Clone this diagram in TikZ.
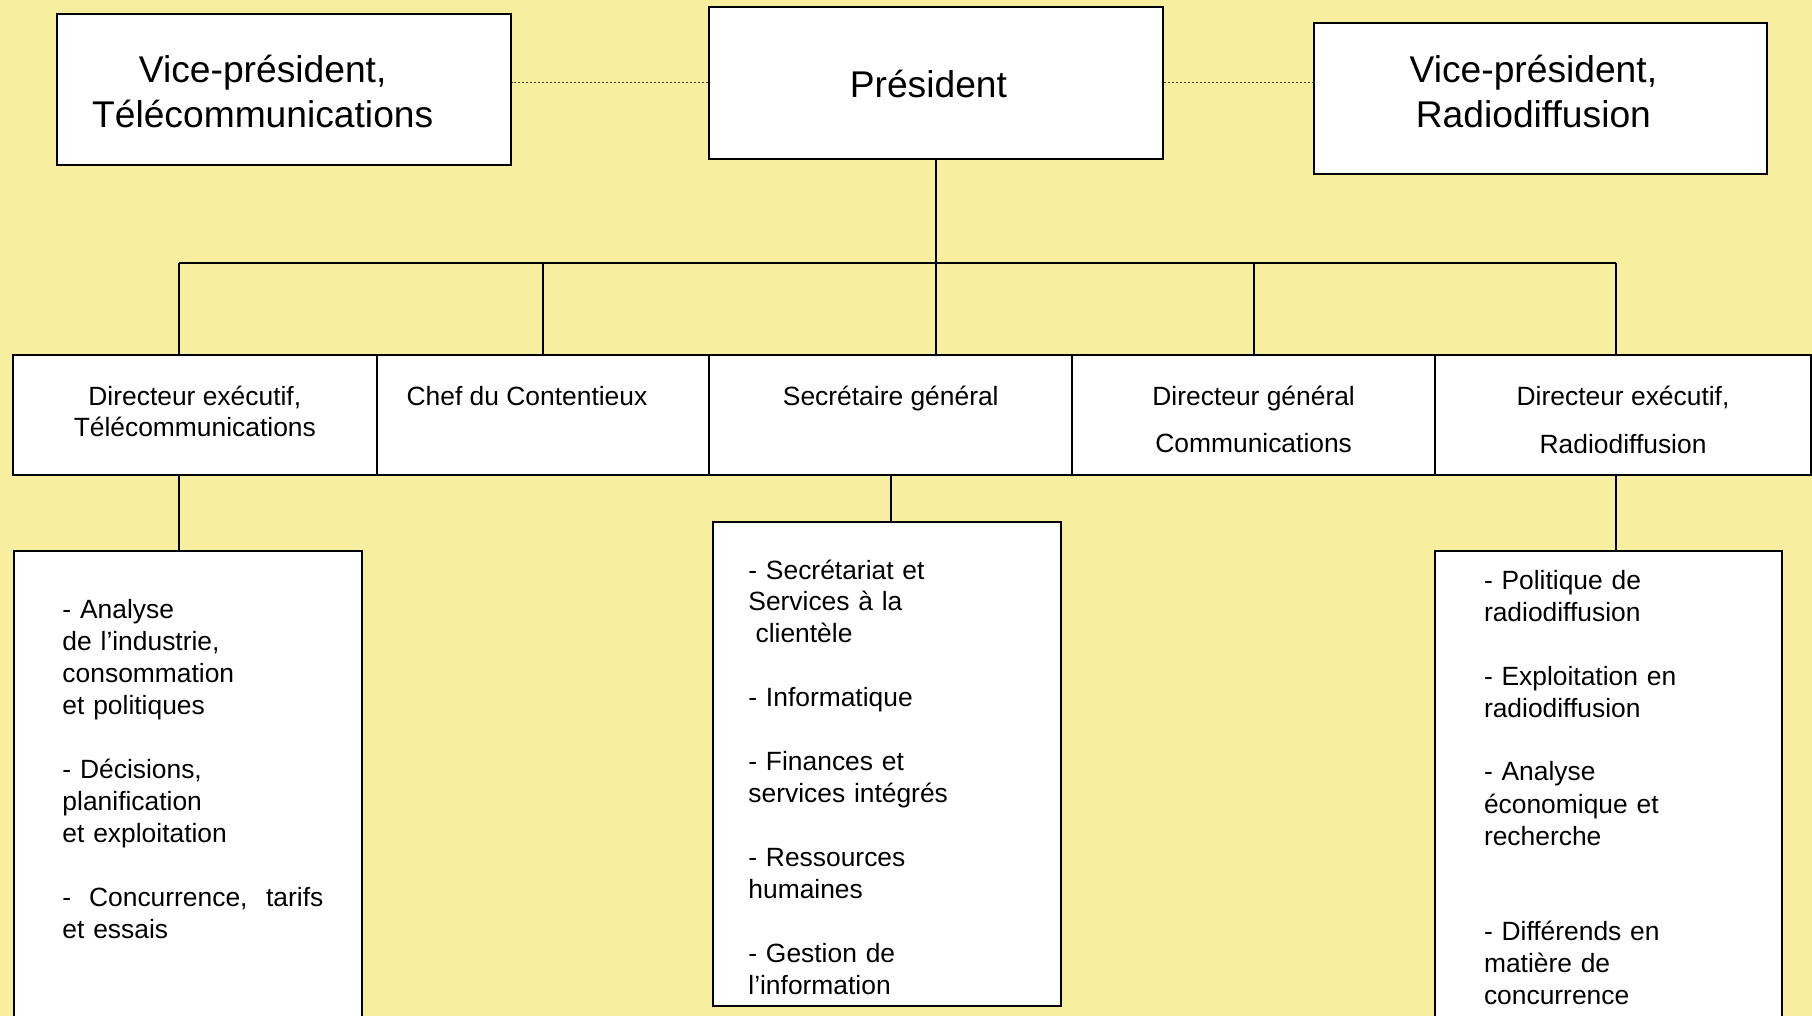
\documentclass[tikz,border=0pt]{standalone}
\usepackage{fontspec}
\setmainfont{Liberation Sans}
\definecolor{bgyellow}{RGB}{248,238,160}
\newcommand{\bigfont}{\fontsize{18.6}{22.5}\selectfont}
\newcommand{\dirfont}{\fontsize{13.2}{15.5}\selectfont}
\newcommand{\taskfont}{\fontsize{13.2}{16}\selectfont}
\newcommand{\boxlines}[1]{\begin{tabular}[t]{@{}c@{}}#1\end{tabular}}
\tikzset{
  box/.style={draw, fill=white, line width=1pt, inner sep=0pt, anchor=north west},
  bigbox/.style={box, font=\bigfont},
  dirbox/.style={box, font=\dirfont, text height=25.15pt, text depth=35pt},
  taskbox/.style={box, font=\taskfont, align=left, execute at begin node={\leftskip=#1}},
  link/.style={line width=1pt},
  dotlink/.style={line width=0.6pt, black!75, dash pattern=on 0.8pt off 1.2pt}
}
\begin{document}
\begin{tikzpicture}[x=0.5pt,y=-0.5pt]
\useasboundingbox (0,0) rectangle (1812,1016);
\clip (0,0) rectangle (1812,1016);
\fill[bgyellow] (0,0) rectangle (1812,1016);

\node[bigbox, minimum width=227pt, text height=34.5pt, text depth=41.3pt] (vpt) at (55.5,12.7)
  {\boxlines{Vice-président,\\Télécommunications}\kern20.8pt};
\node[bigbox, minimum width=227pt, text height=45.35pt, text depth=30.5pt] (pres) at (708,6)
  {Président\kern7.6pt};
\node[bigbox, minimum width=226.6pt, text height=30pt, text depth=45.65pt] (vpr) at (1312.8,21.7)
  {\boxlines{Vice-président,\\Radiodiffusion}\kern7pt};

%directors
\node[dirbox, minimum width=181.8pt] (dte) at (12,354) {\boxlines{Directeur exécutif,\\Télécommunications}};
\node[dirbox, minimum width=166.4pt] (chef) at (375.6,354) {Chef du Contentieux\kern16pt};
\node[dirbox, minimum width=181.4pt] (sg) at (708.4,354) {Secrétaire général};
\node[dirbox, minimum width=181.45pt] (dgc) at (1071.2,354) {\boxlines{Directeur général\\[8.3pt]Communications}};
\node[dirbox, minimum width=187.95pt] (der) at (1434.1,354) {\boxlines{Directeur exécutif,\\[8.5pt]Radiodiffusion}};

%services
\node[taskbox=24.4pt, text width=173.9pt, text height=33.5pt, text depth=220pt] (tl) at (12.7,550.3)
  {- Analyse\\de l’industrie,\\consommation\\et politiques\\[16pt]
   - Décisions,\\planification\\et exploitation\\[16pt]
   -\hspace{4.5pt} Concurrence,\hspace{4.9pt} tarifs\\et essais};
\node[taskbox=17.7pt, text width=173.85pt, text height=28.65pt, text depth=213.5pt] (tm) at (712,520.7)
  {- Secrétariat et\\Services à la\\\hspace*{3.6pt}clientèle\\[16pt]
   - Informatique\\[16pt]
   - Finances et\\services intégrés\\[16pt]
   - Ressources\\humaines\\[16pt]
   - Gestion de\\l’information};
\node[taskbox=24.5pt, text width=173.7pt, text height=18.85pt, text depth=220pt] (tr) at (1434,550.3)
  {- Politique de\\radiodiffusion\\[16pt]
   - Exploitation en\\radiodiffusion\\[16pt]
   - Analyse\\économique et\\recherche\\[32pt]
   - Différends en\\matière de\\concurrence};

\draw[dotlink] (pres.west) -- (pres.west -| vpt.east);
\draw[dotlink] (pres.east) -- (pres.east -| vpr.west);

\coordinate (busL) at (179,263.3);
\coordinate (busR) at (1616,263.3);
\draw[link] (pres.south) -- (pres.south |- busL);
\draw[link] (busL) -- (busR);
\draw[link] (busL) -- (busL |- dte.north);
\draw[link] (chef.north) -- (chef.north |- busL);
\draw[link] (pres.south |- busL) -- (pres.south |- sg.north);
\draw[link] (dgc.north) -- (dgc.north |- busL);
\draw[link] (busR) -- (busR |- der.north);
\draw[link] (busL |- dte.south) -- (busL |- tl.north);
\draw[link] (sg.south) -- (sg.south |- tm.north);
\draw[link] (busR |- der.south) -- (busR |- tr.north);
\end{tikzpicture}
\end{document}
